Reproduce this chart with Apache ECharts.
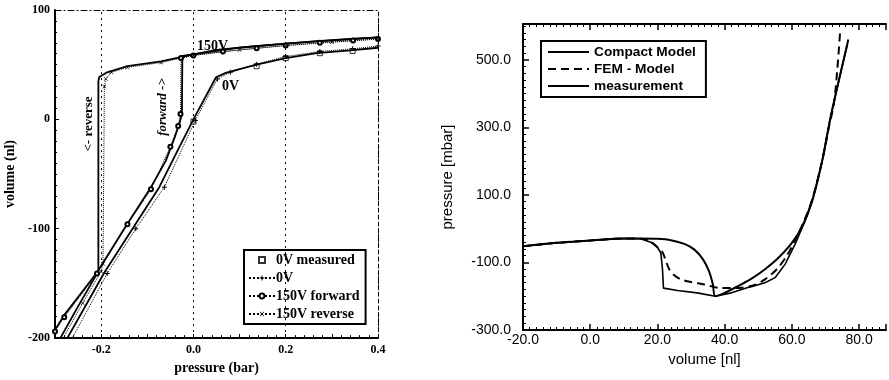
<!DOCTYPE html>
<html><head><meta charset="utf-8">
<script src="https://cdn.jsdelivr.net/npm/echarts@6/dist/echarts.min.js"></script>
<style>html,body{margin:0;padding:0;background:#fff}#c{width:889px;height:380px}</style>
</head><body><div id="c"></div>
<script>
// ---------- Left chart: volume (nl) vs pressure (bar) ----------
const leftXTicks = ['-0.2', '0.0', '0.2', '0.4'];
const leftYTicks = ['100', '0', '-100', '-200'];
const leftGridX = [-0.2, 0, 0.2, 0.4];
const v0Measured = [[0,-2],[0.137,48.6],[0.2,56],[0.274,60.5],[0.345,62.5]];
const v0Model = [[-0.276,-202],[-0.193,-140],[-0.132,-100],[-0.074,-62],[-0.036,-30],[0,0],[0.049,38.5],[0.07,42.5],[0.1,46],[0.137,50],[0.2,56],[0.267,60.5],[0.34,63],[0.4,65.5]];
const v0Sim = [[-0.265,-202],[-0.187,-141],[-0.125,-100],[-0.063,-62],[0.004,-1],[0.052,37],[0.08,43],[0.137,50.5],[0.2,57.5],[0.274,62],[0.345,64.5],[0.4,67]];
const fwdModel = [[-0.3,-192.5],[-0.28,-179],[-0.209,-140],[-0.15,-100],[-0.092,-62],[-0.06,-38],[-0.041,-17],[-0.03,-3],[-0.025,5],[-0.024,58],[0,59.5],[0.05,63.5],[0.122,66.5],[0.194,69],[0.267,71.5],[0.34,73.5],[0.4,75]];
const fwdSim = [[-0.3,-194],[-0.28,-181],[-0.209,-141],[-0.143,-96],[-0.092,-64],[-0.05,-25],[-0.033,-6],[-0.028,5],[-0.027,56],[0,58.5],[0.064,62],[0.137,65],[0.2,67.5],[0.274,70],[0.346,72],[0.4,73.5]];
const revModel = [[0.4,75],[0.3,72.3],[0.2,69.2],[0.1,65.5],[0,59.5],[-0.07,53],[-0.143,48.6],[-0.187,43],[-0.204,38.7],[-0.206,35],[-0.206,-139],[-0.25,-171],[-0.291,-202]];
const revSim = [[0.4,73.5],[0.3,70.5],[0.2,67.5],[0.1,63.5],[0,58.5],[-0.07,52],[-0.143,47.5],[-0.178,43],[-0.19,37],[-0.193,30],[-0.196,-132],[-0.2,-139],[-0.24,-168],[-0.285,-202]];

// ---------- Right chart: pressure [mbar] vs volume [nl] ----------
const rightXTicks = ['-20.0','0.0','20.0','40.0','60.0','80.0'];
const rightYTicks = ['-300.0','-100.0','100.0','300.0','500.0'];
const compactModel = [[-20,-52],[-10,-42],[0,-35],[10,-29],[15,-29],[20,-30],[24,-34],[28,-45],[31,-62],[33.5,-90],[35.3,-125],[36.5,-165],[37.2,-200],[40,-190],[44,-170],[48,-148],[52,-120],[56,-86],[60,-42],[63,5],[66,80],[69,200],[71.5,330],[74,440],[76.8,560]];
const femModel = [[-20,-52],[-10,-42],[0,-35],[10,-29],[15,-30],[18,-38],[20,-55],[21.5,-70],[22.5,-95],[23.5,-120],[25,-138],[27,-150],[30,-158],[34,-165],[38,-175],[43,-176],[48.5,-168],[52,-150],[55.5,-120],[58.5,-80],[61,-33],[63.5,20],[66,85],[69,200],[71,300],[72.5,370],[73.5,470],[74.4,590]];
const measurement = [[-20,-52],[-10,-42],[0,-35],[10,-29],[15,-30],[18,-40],[20,-55],[21,-72],[21.5,-120],[21.8,-176],[26,-183],[31.8,-190],[37.2,-200],[42,-190],[47.4,-173],[52,-160],[55,-145],[58,-105],[61,-45],[64,25],[66.5,100],[69,200],[71.5,330],[74,440],[76.5,545]];

const serif = 'Liberation Serif';
const sans = 'Liberation Sans';
const plusSym = 'path://M4,0H6V10H4ZM0,4H10V6H0Z';
const crossSym = 'path://M1,0L5,4L9,0L10,1L6,5L10,9L9,10L5,6L1,10L0,9L4,5L0,1Z';
const squareSym = 'path://M0,0H10V10H0Z';

const chart = echarts.init(document.getElementById('c'), null, {renderer:'canvas'});

function leftXLabel(v){
  const s = v.toFixed(1) === '-0.0' ? '0.0' : v.toFixed(1);
  return leftXTicks.indexOf(s) >= 0 ? s : '';
}
function leftYLabel(v){
  const s = String(Math.round(v));
  return leftYTicks.indexOf(s) >= 0 ? s : '';
}
function rightXLabel(v){ const s=v.toFixed(1); return rightXTicks.indexOf(s)>=0?s:''; }
function rightYLabel(v){ const s=v.toFixed(1); return rightYTicks.indexOf(s)>=0?s:''; }

const lineBlack = {color:'#000'};
const option = {
  animation:false,
  backgroundColor:'#fff',
  grid:[
    {left:55, top:10, width:323, height:333},
    {left:523, top:24, right:0, height:306}
  ],
  xAxis:[
    {gridIndex:0, type:'value', min:-0.3, max:0.4, interval:0.1,
     name:'pressure (bar)', nameLocation:'middle', nameGap:21,
     nameTextStyle:{fontFamily:serif, fontSize:14, fontWeight:'bold', color:'#000'},
     axisLine:{onZero:false, lineStyle:{color:'#000', width:2}},
     axisTick:{inside:true, length:4, lineStyle:{color:'#000'}},
     minorTick:{show:true, splitNumber:5, length:3, lineStyle:{color:'#000'}},
     axisLabel:{formatter:leftXLabel, fontFamily:serif, fontSize:12, fontWeight:'bold', color:'#000', margin:6},
     splitLine:{show:false}},
    {gridIndex:0, type:'value', position:'top', min:-0.3, max:0.4,
     axisLine:{onZero:false, lineStyle:{color:'#000', width:1, type:[6,3,1,3]}},
     axisTick:{show:false}, axisLabel:{show:false}, splitLine:{show:false}},
    {gridIndex:1, type:'value', min:-20, max:88, interval:20,
     name:'volume [nl]', nameLocation:'middle', nameGap:19,
     nameTextStyle:{fontFamily:sans, fontSize:15, color:'#000'},
     axisLine:{onZero:false, lineStyle:{color:'#000', width:2}},
     axisTick:{inside:true, length:6, lineStyle:{color:'#000', width:1.5}},
     minorTick:{show:true, splitNumber:10, length:3, lineStyle:{color:'#000'}},
     axisLabel:{formatter:rightXLabel, fontFamily:sans, fontSize:14, color:'#000', margin:3},
     splitLine:{show:false}},
    {gridIndex:1, type:'value', position:'top', min:-20, max:88, interval:20,
     axisLine:{onZero:false, lineStyle:{color:'#000', width:2}},
     axisTick:{inside:true, length:6, lineStyle:{color:'#000', width:1.5}},
     minorTick:{show:true, splitNumber:10, length:3, lineStyle:{color:'#000'}},
     axisLabel:{show:false}, splitLine:{show:false}}
  ],
  yAxis:[
    {gridIndex:0, type:'value', min:-200, max:100, interval:100,
     name:'volume (nl)', nameLocation:'middle', nameGap:38,
     nameTextStyle:{fontFamily:serif, fontSize:14, fontWeight:'bold', color:'#000'},
     axisLine:{onZero:false, lineStyle:{color:'#000', width:2}},
     axisTick:{inside:true, length:4, lineStyle:{color:'#000'}},
     minorTick:{show:true, splitNumber:10, length:2, lineStyle:{color:'#000'}},
     axisLabel:{formatter:leftYLabel, fontFamily:serif, fontSize:12, fontWeight:'bold', color:'#000', margin:5},
     splitLine:{show:false}},
    {gridIndex:0, type:'value', position:'right', min:-200, max:100,
     axisLine:{show:true, onZero:false, lineStyle:{color:'#000', width:1, type:[4,3]}},
     axisTick:{show:false}, axisLabel:{show:false}, splitLine:{show:false}},
    {gridIndex:1, type:'value', min:-300, max:606, interval:200,
     name:'pressure [mbar]', nameLocation:'middle', nameGap:68,
     nameTextStyle:{fontFamily:sans, fontSize:15, color:'#000'},
     axisLine:{onZero:false, lineStyle:{color:'#000', width:2}},
     axisTick:{inside:true, length:6, lineStyle:{color:'#000', width:1.5}},
     minorTick:{show:true, splitNumber:10, length:3, lineStyle:{color:'#000'}},
     axisLabel:{formatter:rightYLabel, fontFamily:sans, fontSize:14, color:'#000', margin:12},
     splitLine:{show:false}}
  ],
  legend:[
    {data:['0V measured','0V','150V forward','150V reverse'], orient:'vertical',
     left:244, top:250, padding:[3,6,3,4], itemGap:4, itemWidth:26, itemHeight:6,
     borderColor:'#000', borderWidth:2, backgroundColor:'#fff',
     textStyle:{fontFamily:serif, fontSize:14, fontWeight:'bold', color:'#000', padding:[0,0,0,-4]}},
    {data:['Compact Model','FEM - Model','measurement'], orient:'vertical',
     left:541, top:41, padding:[4,10,4,6], itemGap:3, itemWidth:41, itemHeight:12,
     itemStyle:{opacity:0},
     borderColor:'#000', borderWidth:2, backgroundColor:'#fff',
     textStyle:{fontFamily:sans, fontSize:13.7, fontWeight:'bold', color:'#000'}}
  ],
  graphic:[
    {type:'text', left:197, top:39, style:{text:'150V', font:'bold 14px "Liberation Serif"', fill:'#000'}},
    {type:'text', left:222, top:79, style:{text:'0V', font:'bold 14px "Liberation Serif"', fill:'#000'}},
    {type:'text', x:163, y:107, rotation:Math.PI/2,
     style:{text:'forward ->', font:'italic bold 13px "Liberation Serif"', fill:'#000', align:'center', verticalAlign:'middle', textAlign:'center', textVerticalAlign:'middle'}},
    {type:'text', x:89, y:124, rotation:Math.PI/2,
     style:{text:'<- reverse', font:'bold 13px "Liberation Serif"', fill:'#000', align:'center', verticalAlign:'middle', textAlign:'center', textVerticalAlign:'middle'}}
  ],
  series:[
    {name:'0V model', type:'line', xAxisIndex:0, yAxisIndex:0, data:v0Model, symbol:'none', clip:true,
     lineStyle:{color:'#000', width:1.8}, itemStyle:lineBlack, silent:true,
     markLine:{silent:true, symbol:'none', label:{show:false},
       lineStyle:{color:'#000', width:1, type:[2,4]},
       data:leftGridX.map(function(x){return {xAxis:x};})}},
    {name:'150V forward model', type:'line', xAxisIndex:0, yAxisIndex:0, data:fwdModel, symbol:'none', clip:true,
     lineStyle:{color:'#000', width:1.8}, itemStyle:lineBlack},
    {name:'150V reverse model', type:'line', xAxisIndex:0, yAxisIndex:0, data:revModel, symbol:'none', clip:true,
     lineStyle:{color:'#000', width:1.8}, itemStyle:lineBlack},
    {name:'0V measured', type:'scatter', xAxisIndex:0, yAxisIndex:0, data:v0Measured, symbol:squareSym, symbolSize:5,
     itemStyle:{color:'#fff', borderColor:'#000', borderWidth:1}},
    {name:'0V', type:'line', xAxisIndex:0, yAxisIndex:0, data:v0Sim, symbol:plusSym, symbolSize:5, clip:true,
     lineStyle:{color:'#000', width:1, type:'dotted'}, itemStyle:lineBlack},
    {name:'150V forward', type:'line', xAxisIndex:0, yAxisIndex:0, data:fwdSim, symbol:'emptyCircle', symbolSize:4, clip:true,
     lineStyle:{color:'#000', width:1, type:'dotted'}, itemStyle:{color:'#000', borderColor:'#000'}},
    {name:'150V reverse', type:'line', xAxisIndex:0, yAxisIndex:0, data:revSim, symbol:crossSym, symbolSize:4, clip:true,
     lineStyle:{color:'#000', width:1, type:'dotted'}, itemStyle:lineBlack},
    {name:'Compact Model', type:'line', xAxisIndex:2, yAxisIndex:2, data:compactModel, symbol:'none', smooth:0.3, clip:true,
     lineStyle:{color:'#000', width:2}, itemStyle:lineBlack},
    {name:'FEM - Model', type:'line', xAxisIndex:2, yAxisIndex:2, data:femModel, symbol:'none', smooth:0.3, clip:true,
     lineStyle:{color:'#000', width:2, type:[8,5]}, itemStyle:lineBlack},
    {name:'measurement', type:'line', xAxisIndex:2, yAxisIndex:2, data:measurement, symbol:'none', clip:true,
     lineStyle:{color:'#000', width:1.6}, itemStyle:lineBlack}
  ]
};
chart.setOption(option);
</script></body></html>
